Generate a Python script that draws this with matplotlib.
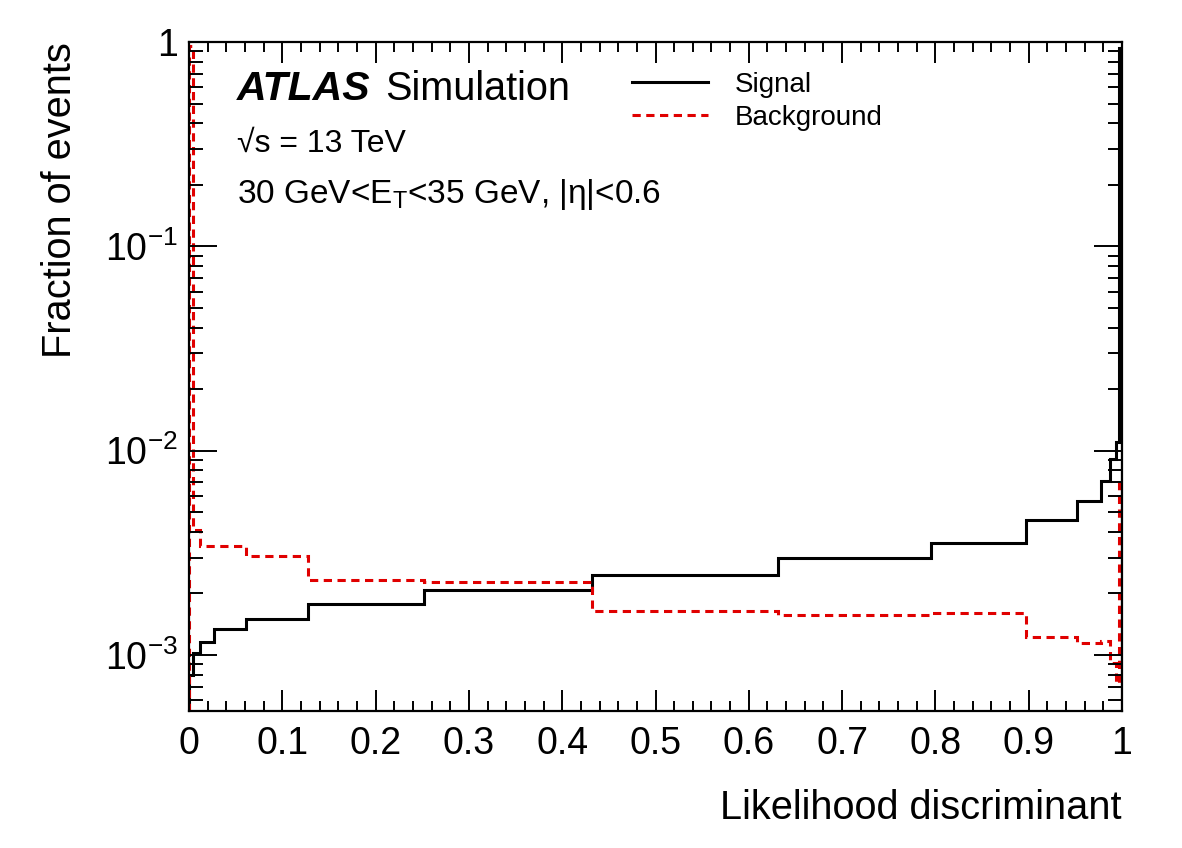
import matplotlib
matplotlib.use('Agg')
import matplotlib.pyplot as plt
import numpy as np
from matplotlib.ticker import FixedLocator, LogLocator, FuncFormatter, NullFormatter, MultipleLocator

# bin edges of the likelihood discriminant (variable width)
edges = [0.0, 0.0046, 0.012, 0.027, 0.061, 0.128, 0.252, 0.432, 0.631,
         0.795, 0.897, 0.952, 0.977, 0.987, 0.9934, 0.9968, 1.0]

signal = [8.0e-4, 1.02e-3, 1.16e-3, 1.34e-3, 1.50e-3, 1.77e-3, 2.08e-3, 2.45e-3,
          3.0e-3, 3.55e-3, 4.57e-3, 5.7e-3, 7.1e-3, 9.1e-3, 1.1e-2, 0.93]
background = [0.96, 4.1e-3, 3.4e-3, 3.4e-3, 3.05e-3, 2.34e-3, 2.27e-3, 1.64e-3,
              1.57e-3, 1.60e-3, 1.22e-3, 1.14e-3, 1.17e-3, 9.1e-4, 7.3e-4, 6.9e-3]

plt.rcParams['font.family'] = ['Liberation Sans', 'DejaVu Sans']
plt.rcParams['mathtext.fontset'] = 'custom'
plt.rcParams['mathtext.rm'] = 'Liberation Sans'
plt.rcParams['mathtext.it'] = 'Liberation Sans:italic'
plt.rcParams['mathtext.bf'] = 'Liberation Sans:bold'

fig = plt.figure(figsize=(11.82, 8.48), dpi=100)
ax = fig.add_axes([189/1182, 1 - 711/848, 933/1182, 669/848])

ax.stairs(signal, edges, baseline=1e-6, color='black', lw=2.2, label='Signal')
ax.stairs(background, edges, baseline=1e-6, color='#e00000', lw=2.2,
          linestyle=(0, (2.7, 1.8)), label='Background')

ax.set_yscale('log')
ax.set_xlim(0, 1)
ax.set_ylim(5.32e-4, 1.0)

def ylab(v, pos):
    e = int(round(np.log10(v)))
    if e == 0:
        return '1'
    return r'$10^{%d}$' % e

ax.yaxis.set_major_locator(FixedLocator([1e-3, 1e-2, 1e-1, 1]))
ax.yaxis.set_major_formatter(FuncFormatter(ylab))
ax.yaxis.set_minor_locator(LogLocator(base=10, subs=np.arange(2, 10)))
ax.yaxis.set_minor_formatter(NullFormatter())
ax.xaxis.set_major_locator(MultipleLocator(0.1))
ax.xaxis.set_minor_locator(MultipleLocator(0.02))
ax.xaxis.set_major_formatter(FuncFormatter(lambda v, p: '%g' % round(v, 1)))

ax.tick_params(which='both', direction='in', top=True, right=True, width=1.4)
ax.tick_params(axis='x', which='major', length=15, labelsize=27, pad=11)
ax.tick_params(axis='x', which='minor', length=7.5)
ax.tick_params(axis='y', which='major', length=20, labelsize=27, pad=8)
ax.tick_params(axis='y', which='minor', length=10)
for s in ax.spines.values():
    s.set_linewidth(1.6)

ax.set_xlabel('Likelihood discriminant', fontsize=28.6, loc='right')
ax.set_ylabel('Fraction of events', fontsize=28.6, loc='top')
ax.xaxis.set_label_coords(1.0, -0.116)
ax.yaxis.set_label_coords(-0.118, 1.0)

ax.text(0.0514, 0.913, 'ATLAS', transform=ax.transAxes, fontsize=29.5,
        fontweight='bold', fontstyle='italic')
ax.text(0.210, 0.913, 'Simulation', transform=ax.transAxes, fontsize=28.5)
ax.text(0.0514, 0.8356, '\u221as = 13 TeV', transform=ax.transAxes, fontsize=23)
ax.text(0.0514, 0.759, '30 GeV<E$_\\mathrm{T}$<35 GeV, |\u03b7|<0.6',
        transform=ax.transAxes, fontsize=24)

ax.legend(loc='upper left', bbox_to_anchor=(0.4748, 0.955), frameon=False,
          fontsize=20, handlelength=2.73, handletextpad=0.97, labelspacing=0.25,
          borderpad=0, borderaxespad=0)

fig.savefig('out.png', dpi=100)
